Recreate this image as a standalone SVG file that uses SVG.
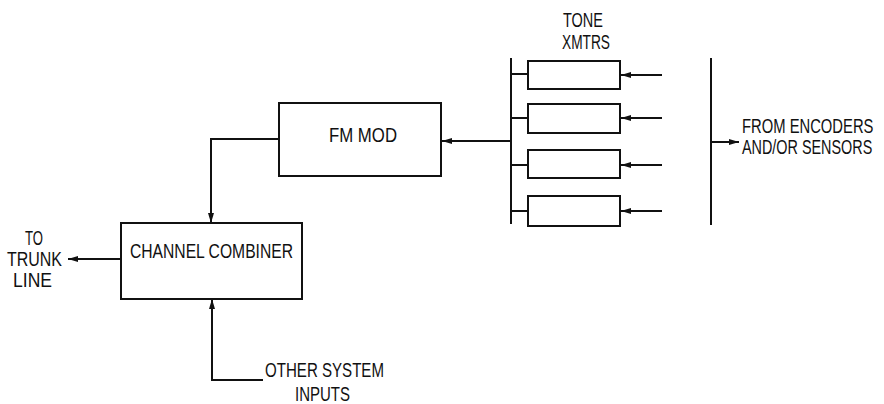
<svg xmlns="http://www.w3.org/2000/svg" width="884" height="404" viewBox="0 0 884 404">
<style>
.box{fill:none;stroke:#111;stroke-width:2}
.ln{fill:none;stroke:#111;stroke-width:2}
.t{font-family:"Liberation Sans",Arial,sans-serif;font-size:21px;fill:#111}
.s{font-size:20px}
</style>
<defs>
<marker id="ah" viewBox="0 0 10 8" refX="10" refY="4" markerWidth="10" markerHeight="8" markerUnits="userSpaceOnUse" orient="auto">
<path d="M0,1 L10,4 L0,7 Z" fill="#111"/>
</marker>
</defs>
<rect width="884" height="404" fill="#fff"/>
<g id="connectors">
<polyline class="ln" points="279,139 211,139 211,223" marker-end="url(#ah)"/>
<line class="ln" x1="121" y1="259" x2="68" y2="259" marker-end="url(#ah)"/>
<polyline class="ln" points="263,380 212,380 212,299" marker-end="url(#ah)"/>
<line class="ln" x1="511" y1="141" x2="442" y2="141" marker-end="url(#ah)"/>
<line class="ln" x1="511" y1="58" x2="511" y2="224"/>
<line class="ln" x1="511" y1="74" x2="528" y2="74"/>
<line class="ln" x1="511" y1="118" x2="528" y2="118"/>
<line class="ln" x1="511" y1="165" x2="528" y2="165"/>
<line class="ln" x1="511" y1="211" x2="528" y2="211"/>
<line class="ln" x1="662" y1="75" x2="621" y2="75" marker-end="url(#ah)"/>
<line class="ln" x1="662" y1="118" x2="621" y2="118" marker-end="url(#ah)"/>
<line class="ln" x1="662" y1="165" x2="621" y2="165" marker-end="url(#ah)"/>
<line class="ln" x1="662" y1="211" x2="621" y2="211" marker-end="url(#ah)"/>
<line class="ln" x1="711" y1="58" x2="711" y2="225"/>
<line class="ln" x1="711" y1="142" x2="739" y2="142" marker-end="url(#ah)"/>
</g>
<g id="fm-mod">
<rect class="box" x="279" y="103" width="162" height="73"/>
<text class="t" x="329" y="142" textLength="68" lengthAdjust="spacingAndGlyphs">FM MOD</text>
</g>
<g id="channel-combiner">
<rect class="box" x="121" y="223" width="181" height="76"/>
<text class="t" x="130" y="258" textLength="163" lengthAdjust="spacingAndGlyphs">CHANNEL COMBINER</text>
</g>
<g id="tone-xmtrs">
<text class="t" x="563" y="27" textLength="40" lengthAdjust="spacingAndGlyphs">TONE</text>
<text class="t" x="562" y="49" textLength="48" lengthAdjust="spacingAndGlyphs">XMTRS</text>
<rect class="box" x="528" y="61" width="92" height="28"/>
<rect class="box" x="528" y="104" width="92" height="29"/>
<rect class="box" x="528" y="150" width="92" height="28"/>
<rect class="box" x="528" y="196" width="92" height="30"/>
</g>
<g id="trunk-line">
<text class="t" x="25" y="245" textLength="18" lengthAdjust="spacingAndGlyphs">TO</text>
<text class="t" x="7" y="266" textLength="55" lengthAdjust="spacingAndGlyphs">TRUNK</text>
<text class="t" x="13" y="287" textLength="39" lengthAdjust="spacingAndGlyphs">LINE</text>
</g>
<g id="other-inputs">
<text class="t" x="265" y="377" textLength="119" lengthAdjust="spacingAndGlyphs">OTHER SYSTEM</text>
<text class="t" x="295" y="401" textLength="55" lengthAdjust="spacingAndGlyphs">INPUTS</text>
</g>
<g id="encoders">
<text class="t s" transform="translate(742,133) scale(0.74,1)" x="0" y="0">FROM ENCODERS</text>
<text class="t s" transform="translate(742,154) scale(0.72,1)" x="0" y="0">AND/OR SENSORS</text>
</g>
</svg>
